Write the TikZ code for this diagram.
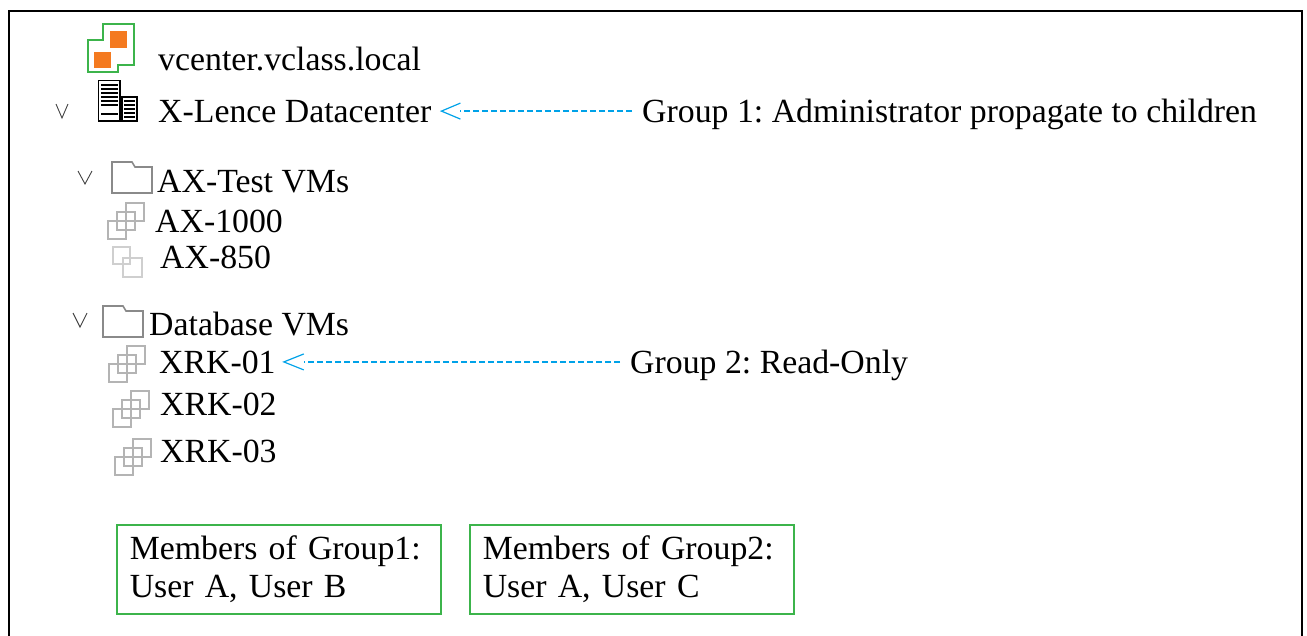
\documentclass[tikz,border=0pt]{standalone}
\usepackage{fontspec}
\setmainfont{Liberation Serif}
\definecolor{linkblue}{HTML}{00A2E8}
\definecolor{boxgreen}{HTML}{3CB44B}
\definecolor{vcorange}{HTML}{F47A20}
\definecolor{vmgrey}{HTML}{B4B4B4}
\definecolor{vmlight}{HTML}{CFCFCF}
\definecolor{foldergrey}{HTML}{8A8A8A}
\newcommand\treefont{\fontsize{33.8}{38}\selectfont}
\frenchspacing
\begin{document}
\begin{tikzpicture}[x=1pt,y=-1pt]

    \tikzset{
      lbl/.style={anchor=base west, inner sep=0pt, font=\treefont},
      members/.style={
        draw=boxgreen,
        line width=1.5pt,
        anchor=north west,
        minimum height=89pt,
        text width=298pt,
        inner xsep=13pt,
        align=left,
        font=\treefont,
      },
      link/.style={color=linkblue, line width=2.6pt, dash pattern=on 6.5pt off 2.5pt},
      chev/.style={color=linkblue, line width=1.2pt},
      vmark/.style={color=black!75, line width=0.9pt},
      vmstack/.pic={
        \draw[draw=vmgrey, line width=2.2pt] (0,0) rectangle (18,-18);
        \draw[draw=vmgrey, line width=2.2pt] (9,-9) rectangle (27,-27);
        \draw[draw=vmgrey, line width=2.2pt] (18,-18) rectangle (36,-36);
      },
      vmpair/.pic={
        \draw[draw=vmlight, line width=2.2pt] (0,0) rectangle (17,17);
        \draw[draw=vmlight, line width=2.2pt] (10,11) rectangle (29,30);
      },
      folder/.pic={
        \draw[draw=foldergrey, line width=1.6pt] (0,0) -- (40,0) -- (40,-26) -- (23,-26)
          -- (20,-31) -- (0,-31) -- cycle;
      },
    }
    \useasboundingbox (0,0) rectangle (1307,635);
    \clip (0,0) rectangle (1307,635);
    \draw[line width=2.5pt] (9,11) rectangle (1302,660);

    % vcenter icon
    \draw[boxgreen, line width=2pt] (103,24) -- (134,24) -- (134,65) -- (118,65) -- (118,72)
      -- (88,72) -- (88,40) -- (103,40) -- cycle;
    \fill[vcorange] (110,31) rectangle (127,48);
    \fill[vcorange] (94,52) rectangle (111,68);

    % datacenter icon
    \draw[line width=1.5pt] (98.5,80.5) rectangle (120,121);
    \foreach \y in {85,89,93,97,101,105}
      \draw[line width=1.1pt] (101,\y) -- (117.5,\y);
    \draw[line width=1.1pt] (101,114) -- (117.5,114);
    \draw[line width=1.5pt] (122,97) rectangle (137,121);
    \foreach \y in {101,105,109,113,117}
      \draw[line width=1.1pt] (124,\y) -- (135,\y);

    % tree marks and icons
    \draw[vmark] (56,104) -- (62,118) -- (68,104);
    \draw[vmark] (78,171) -- (85,184) -- (92,171);
    \draw[vmark] (73,313) -- (80,327) -- (87,313);
    \pic at (112,193) {folder};
    \pic at (103,337) {folder};
    \pic at (108,239) {vmstack};
    \pic at (113,247) {vmpair};
    \pic at (109,382) {vmstack};
    \pic at (113,427) {vmstack};
    \pic at (115,475) {vmstack};

    \node[lbl] (vc) at (158,70) {vcenter.vclass.local};
    \node[lbl] (dc) at (158,122) {X-Lence Datacenter};
    \node[lbl] (g1) at (642,122) {Group 1: Administrator propagate to children};
    \node[lbl] (axf) at (157,192) {AX-Test VMs};
    \node[lbl] (ax1) at (155,232) {AX-1000};
    \node[lbl] (ax2) at (160,268) {AX-850};
    \node[lbl] (dbf) at (149,335) {Database VMs};
    \node[lbl] (xrk1) at (159,373) {XRK-01};
    \node[lbl] (g2) at (630,373) {Group 2: Read-Only};
    \node[lbl] (xrk2) at (160,415) {XRK-02};
    \node[lbl] (xrk3) at (160,462) {XRK-03};

    \draw[link, shorten <=10pt, shorten >=29pt] (g1.west |- dc.east) -- (dc.east);
    \draw[chev] ([xshift=29pt,yshift=-8pt]dc.east) -- ([xshift=10pt]dc.east)
      -- ([xshift=29pt,yshift=8pt]dc.east);
    \draw[link, shorten <=10pt, shorten >=28pt] (g2.west |- xrk1.east) -- (xrk1.east);
    \draw[chev] ([xshift=28pt,yshift=-8pt]xrk1.east) -- ([xshift=8pt]xrk1.east)
      -- ([xshift=28pt,yshift=8pt]xrk1.east);

    \node[members] (m1) at (116,524) {Members of Group1:\\User A, User B};
    \node[members] (m2) at (469,524) {Members of Group2:\\User A, User C};

\end{tikzpicture}
\end{document}
